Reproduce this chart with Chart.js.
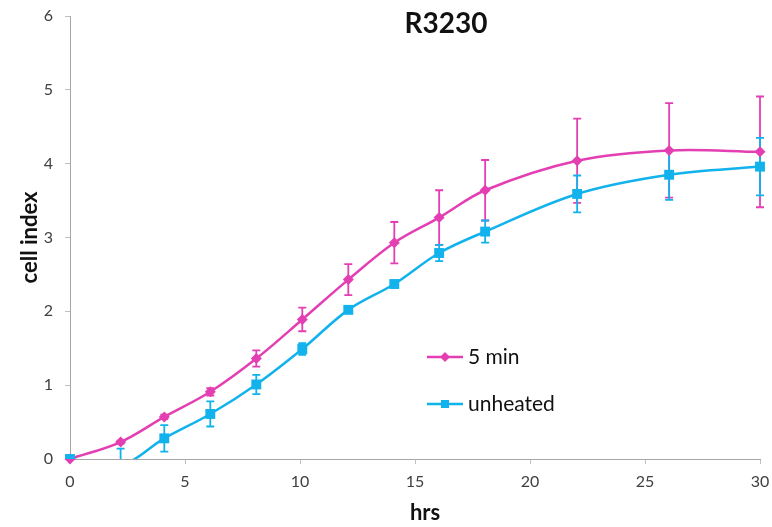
<!DOCTYPE html>
<html>
<head>
<meta charset="utf-8">
<title>R3230</title>
<script src="https://cdn.jsdelivr.net/npm/chart.js@4.4.1/dist/chart.umd.min.js"></script>
<style>
  html, body { margin: 0; padding: 0; background: #fff; }
  #wrap { width: 772px; height: 527px; }
</style>
</head>
<body>
<div id="wrap"><canvas id="myChart" width="772" height="527"></canvas></div>
<script>
// time points (hrs)
var hours = [0, 2.2, 4.1, 6.1, 8.1, 10.1, 12.1, 14.1, 16.05, 18.05, 22.05, 26.05, 30];

// cell index, heated 5 min
var heated = [0, 0.23, 0.57, 0.91, 1.36, 1.89, 2.43, 2.93, 3.27, 3.64, 4.04, 4.18, 4.16];
var heatedErr = [0.01, 0.02, 0.03, 0.05, 0.11, 0.16, 0.21, 0.28, 0.37, 0.41, 0.57, 0.64, 0.75];

// cell index, unheated control
var unheated = [0, -0.08, 0.28, 0.61, 1.01, 1.49, 2.02, 2.37, 2.79, 3.08, 3.59, 3.85, 3.96];
var unheatedErr = [0, 0.22, 0.18, 0.17, 0.13, 0.08, 0.03, 0.03, 0.11, 0.15, 0.25, 0.34, 0.39];

var seriesNames = ['5 min', 'unheated'];
var xTicks = [0, 5, 10, 15, 20, 25, 30];
var yTicks = [0, 1, 2, 3, 4, 5, 6];

var PINK = '#E33FB3';
var BLUE = '#12B2EC';
var FONT = 'Lato, "Open Sans", sans-serif';

function points(ys, errs){
  var out = [];
  for (var i = 0; i < hours.length; i++){
    out.push({x: hours[i], y: ys[i], err: errs[i]});
  }
  return out;
}

// vertical error bars with caps, drawn under the markers
var errorBars = {
  id: 'errorBars',
  beforeDatasetsDraw: function(chart){
    var ctx = chart.ctx;
    var xs = chart.scales.x, ys = chart.scales.y;
    chart.data.datasets.forEach(function(ds){
      ctx.save();
      ctx.strokeStyle = ds.borderColor;
      ctx.lineWidth = 1.8;
      ds.data.forEach(function(p){
        if (!p.err) return;
        var px = xs.getPixelForValue(p.x);
        var top = ys.getPixelForValue(p.y + p.err);
        var bot = ys.getPixelForValue(Math.max(p.y - p.err, ys.min));
        ctx.beginPath();
        ctx.moveTo(px, top); ctx.lineTo(px, bot);
        ctx.moveTo(px - 4, top); ctx.lineTo(px + 4, top);
        if (p.y - p.err >= ys.min){
          ctx.moveTo(px - 4, bot); ctx.lineTo(px + 4, bot);
        }
        ctx.stroke();
      });
      ctx.restore();
    });
  }
};

// chart title, x axis title and the legend box sitting inside the plot
var labels = {
  id: 'labels',
  afterDraw: function(chart){
    var ctx = chart.ctx;
    ctx.save();
    ctx.fillStyle = '#111';
    ctx.font = 'bold 28px ' + FONT;
    ctx.textAlign = 'center';
    ctx.textBaseline = 'middle';
    ctx.fillText('R3230', 446, 24);

    ctx.font = 'bold 22px ' + FONT;
    ctx.fillText('hrs', 425, 513);

    var rows = [{y: 357, ds: chart.data.datasets[0]}, {y: 404, ds: chart.data.datasets[1]}];
    ctx.font = '21px ' + FONT;
    ctx.textAlign = 'left';
    rows.forEach(function(r){
      ctx.strokeStyle = r.ds.borderColor;
      ctx.lineWidth = 2.5;
      ctx.beginPath();
      ctx.moveTo(427, r.y); ctx.lineTo(463, r.y);
      ctx.stroke();
      ctx.fillStyle = r.ds.borderColor;
      ctx.beginPath();
      if (r.ds.pointStyle === 'rect'){
        ctx.rect(441, r.y - 4, 8, 8);
      } else {
        ctx.moveTo(445, r.y - 5); ctx.lineTo(450, r.y); ctx.lineTo(445, r.y + 5); ctx.lineTo(440, r.y);
        ctx.closePath();
      }
      ctx.fill();
      ctx.fillStyle = '#111';
      ctx.fillText(r.ds.label, 468, r.y);
    });
    ctx.restore();
  }
};

var ctx = document.getElementById('myChart');
var myChart = new Chart(ctx, {
  type: 'line',
  data: {
    datasets: [{
      label: seriesNames[0],
      data: points(heated, heatedErr),
      borderColor: PINK,
      backgroundColor: PINK,
      borderWidth: 2.5,
      pointStyle: 'rectRot',
      pointRadius: 5.5,
      pointBorderWidth: 0,
      tension: 0.35,
      clip: false,
      order: 1
    }, {
      label: seriesNames[1],
      data: points(unheated, unheatedErr),
      borderColor: BLUE,
      backgroundColor: BLUE,
      borderWidth: 2.5,
      pointStyle: 'rect',
      pointRadius: 7,
      pointBorderWidth: 0,
      tension: 0.35,
      clip: {left: 10, top: 10, right: 10, bottom: 0},
      order: 0
    }]
  },
  options: {
    responsive: false,
    animation: false,
    layout: {padding: {left: 0, right: 12, top: 16, bottom: 0}},
    plugins: {
      legend: {display: false},
      tooltip: {enabled: false}
    },
    scales: {
      x: {
        type: 'linear',
        min: 0, max: 30,
        afterFit: function(s){ s.height = 68; s.paddingLeft = 0; s.paddingRight = 0; },
        afterBuildTicks: function(s){ s.ticks = xTicks.map(function(v){ return {value: v}; }); },
        grid: {drawOnChartArea: false, drawTicks: true, tickLength: 5, color: '#BFBFBF'},
        border: {color: '#A6A6A6', width: 1},
        ticks: {color: '#404040', font: {family: FONT, size: 16}, padding: 8, maxRotation: 0},
        title: {display: false}
      },
      y: {
        min: 0, max: 6,
        afterFit: function(s){ s.width = 70; s.paddingTop = 0; s.paddingBottom = 0; },
        afterBuildTicks: function(s){ s.ticks = yTicks.map(function(v){ return {value: v}; }); },
        grid: {drawOnChartArea: false, drawTicks: true, tickLength: 5, color: '#BFBFBF'},
        border: {color: '#A6A6A6', width: 1},
        ticks: {color: '#404040', font: {family: FONT, size: 16}, padding: 12},
        title: {display: true, text: 'cell index', color: '#111', font: {family: FONT, size: 22, weight: 'bold'}, padding: {top: 17, bottom: 0}}
      }
    }
  },
  plugins: [errorBars, labels]
});
</script>
</body>
</html>
